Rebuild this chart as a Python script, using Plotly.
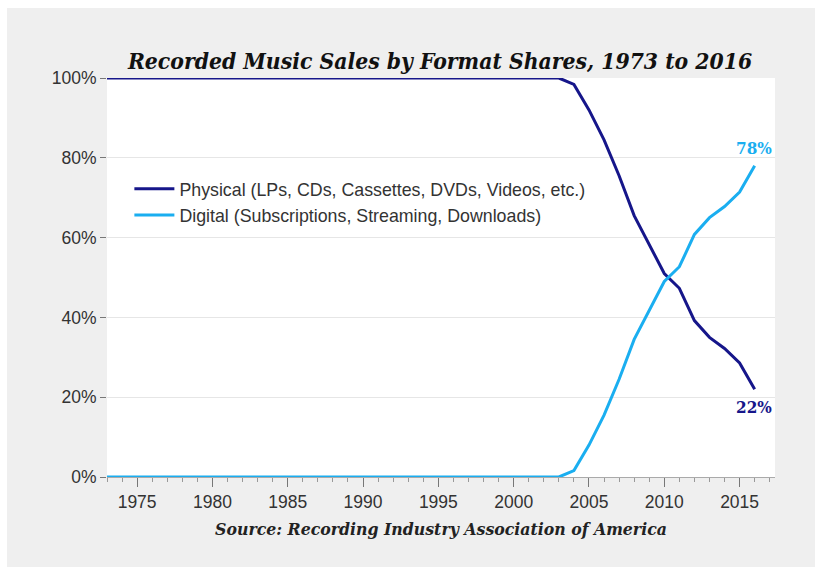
import plotly.graph_objects as go

years = list(range(1973, 2017))

# Share of US recorded music revenue, percent
physical = [100] * 31 + [98.4, 92.0, 84.5, 75.5, 65.5, 58.4, 51.0, 47.3, 39.2, 35.0, 32.2, 28.6, 22.0]
digital = [0] * 31 + [1.6, 8.0, 15.5, 24.5, 34.5, 41.6, 49.0, 52.7, 60.8, 65.0, 67.8, 71.4, 78.0]

physical_name = "Physical (LPs, CDs, Cassettes, DVDs, Videos, etc.)"
digital_name = "Digital (Subscriptions, Streaming, Downloads)"

navy = "#16168a"
sky = "#1aaef0"
serif = "DejaVu Serif Condensed, DejaVu Serif, serif"
sans = "Liberation Sans, Arial, sans-serif"

fig = go.Figure()
fig.add_trace(go.Scatter(x=years, y=physical, mode="lines", name=physical_name,
                         line=dict(color=navy, width=3)))
fig.add_trace(go.Scatter(x=years, y=digital, mode="lines", name=digital_name,
                         line=dict(color=sky, width=3)))

# end-of-series value labels
fig.add_annotation(x=years[-1], y=digital[-1], text=f"<b>{digital[-1]:.0f}%</b>",
                   showarrow=False, xanchor="center", yanchor="bottom", yshift=6, xshift=-1,
                   font=dict(family=serif, size=17, color=sky))
fig.add_annotation(x=years[-1], y=physical[-1], text=f"<b>{physical[-1]:.0f}%</b>",
                   showarrow=False, xanchor="center", yanchor="top", yshift=-6, xshift=-1,
                   font=dict(family=serif, size=17, color=navy))

# thin white frame around the grey card
for x0, x1, y0, y1 in [(0, 7, 0, 574), (815, 822, 0, 574), (0, 822, 0, 8), (0, 822, 567, 574)]:
    fig.add_shape(type="rect", xref="paper", yref="paper", layer="above",
                  x0=(x0 - 107) / 668, x1=(x1 - 107) / 668,
                  y0=(477 - y1) / 399, y1=(477 - y0) / 399,
                  fillcolor="white", line=dict(width=0))

fig.update_layout(
    width=822, height=574,
    margin=dict(l=107, r=47, t=78, b=97),
    paper_bgcolor="#efefef",
    plot_bgcolor="white",
    title=dict(text="<b><i>Recorded Music Sales by Format Shares, 1973 to 2016</i></b>",
               x=440 / 822, xanchor="center", y=1 - 61 / 574, yanchor="middle",
               font=dict(family=serif, size=22.7, color="#111111")),
    legend=dict(x=0.0335, y=0.7675, xanchor="left", yanchor="top",
                bgcolor="rgba(0,0,0,0)", font=dict(family=sans, size=17.8, color="#333333"),
                tracegroupgap=0, itemwidth=40),
    showlegend=True,
    xaxis=dict(range=[1973, 2017.35], tickmode="linear", tick0=1975, dtick=5,
               ticks="outside", ticklen=9, tickcolor="#777777", tickwidth=1,
               minor=dict(dtick=1, tick0=1973, ticks="outside", ticklen=4, tickcolor="#999999"),
               showline=True, linecolor="#aaaaaa", linewidth=1,
               showgrid=False, zeroline=False,
               tickfont=dict(family=sans, size=17.5, color="#333333"),
               title=dict(text="<b><i>Source: Recording Industry Association of America</i></b>",
                          font=dict(family=serif, size=17.5, color="#222222"), standoff=11)),
    yaxis=dict(range=[0, 100], tickmode="array", tickvals=[0, 20, 40, 60, 80, 100],
               ticktext=["0%", "20%", "40%", "60%", "80%", "100%"],
               ticks="outside", ticklen=6, tickcolor="#777777",
               showgrid=True, gridcolor="#e6e6e6", gridwidth=1, zeroline=False,
               showline=False,
               tickfont=dict(family=sans, size=17.5, color="#333333")),
)

fig.write_html("out.html")
